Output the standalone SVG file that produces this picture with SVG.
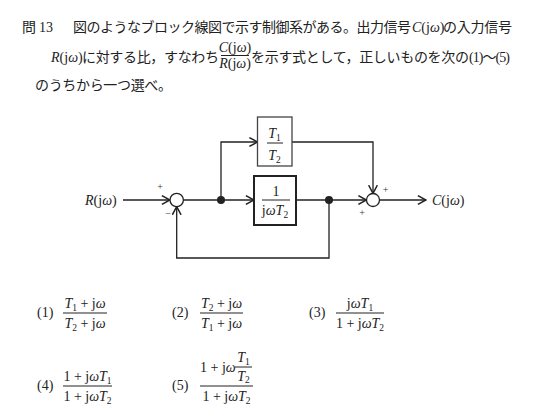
<svg xmlns="http://www.w3.org/2000/svg" width="542" height="413" viewBox="0 0 542 413">
<style>
.ja{font-family:"Noto Sans CJK JP",sans-serif;font-size:14px;fill:#222}
.m{font-family:"Liberation Serif","Noto Sans CJK JP",serif;font-size:14px;fill:#222}
.i{font-style:italic}
.s{font-size:9.5px}
.sg{font-family:"Liberation Serif",serif;font-size:10px;fill:#333}
.w{stroke:#222;stroke-width:1.3;fill:none}
.a{marker-end:url(#ah)}
.fl{stroke:#222;stroke-width:1}
.box{fill:#fff;stroke:#444;stroke-width:1.3}
.box2{fill:#fff;stroke:#222;stroke-width:2}
.sum{fill:#fff;stroke:#222;stroke-width:1.3}
.dot{fill:#222}
</style>
<defs>
<marker id="ah" markerUnits="userSpaceOnUse" markerWidth="10" markerHeight="10" viewBox="0 0 8 8" refX="7" refY="4" orient="auto">
<path d="M0.5,0.5 L7,4 L0.5,7.5" fill="none" stroke="#222" stroke-width="1.2"/>
</marker>
</defs>

<g id="question">
<text class="ja" x="22" y="32">問</text>
<text class="m" x="39" y="32">13</text>
<text class="ja" x="73" y="32" textLength="338" lengthAdjust="spacing">図のようなブロック線図で示す制御系がある。出力信号</text>
<text class="m" x="412" y="32"><tspan class="i">C</tspan>(j<tspan class="i">ω</tspan>)</text>
<text class="ja" x="443" y="32" textLength="69" lengthAdjust="spacing">の入力信号</text>
<text class="m" x="51" y="62"><tspan class="i">R</tspan>(j<tspan class="i">ω</tspan>)</text>
<text class="ja" x="82" y="62" textLength="137" lengthAdjust="spacing">に対する比，すなわち</text>
<text class="m" x="235" y="52" text-anchor="middle"><tspan class="i">C</tspan>(j<tspan class="i">ω</tspan>)</text>
<line class="fl" x1="221" y1="55.5" x2="249" y2="55.5"/>
<text class="m" x="235" y="68" text-anchor="middle"><tspan class="i">R</tspan>(j<tspan class="i">ω</tspan>)</text>
<text class="ja" x="251" y="62" textLength="218" lengthAdjust="spacing">を示す式として，正しいものを次の</text>
<text class="m" x="469" y="62" textLength="41" lengthAdjust="spacing">(1)～(5)</text>
<text class="ja" x="35" y="90" textLength="137" lengthAdjust="spacing">のうちから一つ選べ。</text>
</g>

<g id="connectors">
<path class="w a" d="M123,200 H170"/>
<path class="w a" d="M183.4,200 H254"/>
<path class="w a" d="M221,200 V142 H257.5"/>
<path class="w a" d="M292,142 H373 V193.3"/>
<path class="w a" d="M296,200 H366.5"/>
<path class="w a" d="M329,200 V258 H176.7 V206.7"/>
<path class="w a" d="M379.5,200 H426"/>
</g>

<g id="R">
<text class="m" x="85" y="205"><tspan class="i">R</tspan>(j<tspan class="i">ω</tspan>)</text>
</g>
<g id="sum1">
<circle class="sum" cx="176.7" cy="200" r="6.7"/>
<text class="sg" x="160" y="189.5" text-anchor="middle">+</text>
<text class="sg" x="168" y="217" text-anchor="middle">−</text>
</g>
<g id="branch1"><circle class="dot" cx="221" cy="200" r="4"/></g>
<g id="blockT">
<rect class="box" x="257.5" y="117" width="34.5" height="49"/>
<text class="m" x="274.5" y="138" text-anchor="middle"><tspan class="i">T</tspan><tspan class="s" dy="3">1</tspan></text>
<line class="fl" x1="267" y1="143" x2="283" y2="143"/>
<text class="m" x="274.5" y="160" text-anchor="middle"><tspan class="i">T</tspan><tspan class="s" dy="3">2</tspan></text>
</g>
<g id="blockI">
<rect class="box2" x="254" y="176" width="42" height="49"/>
<text class="m" x="276" y="196" text-anchor="middle">1</text>
<line class="fl" x1="262" y1="200" x2="290" y2="200"/>
<text class="m" x="275" y="215" text-anchor="middle">j<tspan class="i">ωT</tspan><tspan class="s" dy="3">2</tspan></text>
</g>
<g id="branch2"><circle class="dot" cx="329" cy="200" r="4"/></g>
<g id="sum2">
<circle class="sum" cx="373" cy="200" r="6.5"/>
<text class="sg" x="385.5" y="192.5" text-anchor="middle">+</text>
<text class="sg" x="362" y="216" text-anchor="middle">+</text>
</g>
<g id="C">
<text class="m" x="432" y="205"><tspan class="i">C</tspan>(j<tspan class="i">ω</tspan>)</text>
</g>

<g id="choices">
<text class="m" x="37" y="317">(1)</text>
<text class="m" x="85" y="308" text-anchor="middle"><tspan class="i">T</tspan><tspan class="s" dy="3">1</tspan><tspan dy="-3"> + j</tspan><tspan class="i">ω</tspan></text>
<line class="fl" x1="63" y1="313" x2="107" y2="313"/>
<text class="m" x="85" y="328" text-anchor="middle"><tspan class="i">T</tspan><tspan class="s" dy="3">2</tspan><tspan dy="-3"> + j</tspan><tspan class="i">ω</tspan></text>

<text class="m" x="172" y="317">(2)</text>
<text class="m" x="221.5" y="308" text-anchor="middle"><tspan class="i">T</tspan><tspan class="s" dy="3">2</tspan><tspan dy="-3"> + j</tspan><tspan class="i">ω</tspan></text>
<line class="fl" x1="200" y1="313" x2="243" y2="313"/>
<text class="m" x="221.5" y="328" text-anchor="middle"><tspan class="i">T</tspan><tspan class="s" dy="3">1</tspan><tspan dy="-3"> + j</tspan><tspan class="i">ω</tspan></text>

<text class="m" x="309" y="317">(3)</text>
<text class="m" x="360" y="308" text-anchor="middle">j<tspan class="i">ωT</tspan><tspan class="s" dy="3">1</tspan></text>
<line class="fl" x1="336" y1="313" x2="384" y2="313"/>
<text class="m" x="360" y="328" text-anchor="middle">1 + j<tspan class="i">ωT</tspan><tspan class="s" dy="3">2</tspan></text>

<text class="m" x="37" y="390">(4)</text>
<text class="m" x="87.5" y="381" text-anchor="middle">1 + j<tspan class="i">ωT</tspan><tspan class="s" dy="3">1</tspan></text>
<line class="fl" x1="63" y1="386" x2="112" y2="386"/>
<text class="m" x="87.5" y="401" text-anchor="middle">1 + j<tspan class="i">ωT</tspan><tspan class="s" dy="3">2</tspan></text>

<text class="m" x="172" y="390">(5)</text>
<text class="m" x="200" y="372">1 + j<tspan class="i">ω</tspan></text>
<text class="m" x="243.5" y="362" text-anchor="middle"><tspan class="i">T</tspan><tspan class="s" dy="3">1</tspan></text>
<line class="fl" x1="235" y1="367" x2="252" y2="367"/>
<text class="m" x="243.5" y="381" text-anchor="middle"><tspan class="i">T</tspan><tspan class="s" dy="2">2</tspan></text>
<line class="fl" x1="200" y1="386" x2="253" y2="386"/>
<text class="m" x="226.5" y="401" text-anchor="middle">1 + j<tspan class="i">ωT</tspan><tspan class="s" dy="3">2</tspan></text>
</g>
</svg>
